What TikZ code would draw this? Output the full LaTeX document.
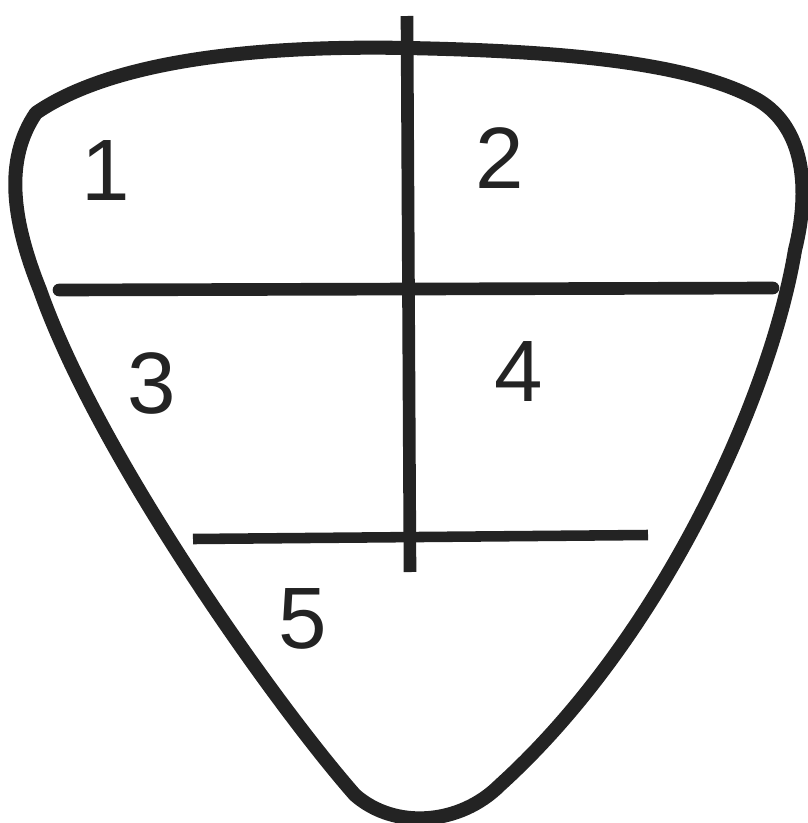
\documentclass[tikz,border=0pt]{standalone}
\usepackage{fontspec}
\setmainfont{Liberation Sans}
\usepackage{xcolor}
\usepackage{tikz}
\usetikzlibrary{calc}
\definecolor{ink}{RGB}{35,35,35}
\tikzset{
    outline/.style={
        draw=ink,
        line width=10pt,
        line join=round
    },
    divider/.style={
        draw=ink,
        line width=9pt
    },
    zonelbl/.style={
        text=ink,
        font=\fontsize{62}{62}\selectfont,
        inner sep=0pt
    }
}

\begin{document}
\begin{tikzpicture}[x=0.025cm, y=-0.025cm]

\useasboundingbox (0,0) rectangle (808,823);

% =========================
% Contorno
% =========================
\draw[outline]
    (36,113) .. controls (110,62) and (250,45) .. (407,48)
    .. controls (560,51) and (690,62) .. (758,100)
    .. controls (805,128) and (810,190) .. (795,250)
    .. controls (770,400) and (660,640) .. (500,785)
    .. controls (460,825) and (395,830) .. (355,795)
    .. controls (280,710) and (100,460) .. (40,290)
    .. controls (12,220) and (4,160) .. (36,113) -- cycle;

% =========================
% Linee di divisione
% =========================
\coordinate (vtop)    at (407,16);
\coordinate (vbottom) at (410,572);
\coordinate (hleft)   at (59,290);
\coordinate (hright)  at (773,288);
\coordinate (lleft)   at (193,539);
\coordinate (lright)  at (648,535);

\draw[divider] (vtop) -- (vbottom);
\draw[divider, line cap=round] (hleft) -- (hright);
\draw[divider, line width=7.5pt] (lleft) -- (lright);

% =========================
% Zone
% =========================
\node[zonelbl] (zone1) at (106,171) {1};
\node[zonelbl] (zone2) at (500,158) {2};
\node[zonelbl] (zone3) at (152,383) {3};
\node[zonelbl] (zone4) at (519,372) {4};
\node[zonelbl] (zone5) at (303,619) {5};

\end{tikzpicture}
\end{document}
